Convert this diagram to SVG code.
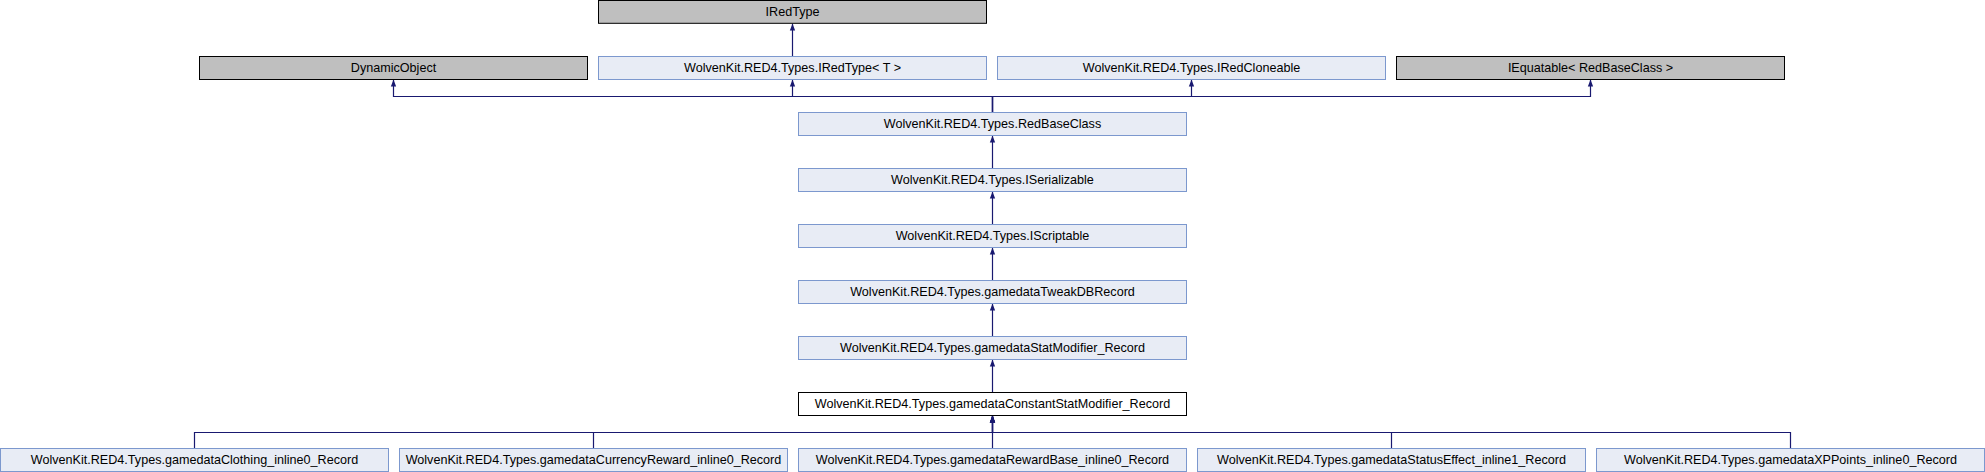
<svg xmlns="http://www.w3.org/2000/svg" width="1985" height="472" viewBox="0 0 1985 472">
<style>
rect.doc{fill:#E8ECF5;stroke:#7C98CE;stroke-width:1}
rect.ext{fill:#BFBFBF;stroke:#000000;stroke-width:1}
rect.cur{fill:#FFFFFF;stroke:#000000;stroke-width:1}
text{font-family:"Liberation Sans",Arial,sans-serif;font-size:12.6px;fill:#000000;text-anchor:middle}
.edge{fill:none;stroke:#191970;stroke-width:1.2;marker-end:url(#arr)}
</style>
<defs>
<marker id="arr" viewBox="0 0 10 10" refX="10" refY="5" markerWidth="7" markerHeight="7" markerUnits="userSpaceOnUse" orient="auto">
<path d="M0,1.2 L10,5 L0,8.8 z" fill="#191970"/>
</marker>
</defs>
<rect width="1985" height="472" fill="#FFFFFF"/>
<g id="connectors">
<path class="edge" d="M792.5,56 V23.5"/>
<path class="edge" d="M992.5,112 V96.5 H393.5 V79.5"/>
<path class="edge" d="M992.5,112 V96.5 H792.5 V79.5"/>
<path class="edge" d="M992.5,112 V96.5 H1191.5 V79.5"/>
<path class="edge" d="M992.5,112 V96.5 H1590.5 V79.5"/>
<path class="edge" d="M992.5,168 V135.5"/>
<path class="edge" d="M992.5,224 V191.5"/>
<path class="edge" d="M992.5,280 V247.5"/>
<path class="edge" d="M992.5,336 V303.5"/>
<path class="edge" d="M992.5,392 V359.5"/>
<path class="edge" d="M194.5,448 V432.5 H992.5 V415.5"/>
<path class="edge" d="M593.5,448 V432.5 H992.5 V415.5"/>
<path class="edge" d="M992.5,448 V415.5"/>
<path class="edge" d="M1391.5,448 V432.5 H992.5 V415.5"/>
<path class="edge" d="M1790.5,448 V432.5 H992.5 V415.5"/>
</g>
<g id="IRedType"><rect class="ext" x="598.5" y="0.5" width="388" height="22.8"/><text x="792.5" y="16">IRedType</text></g>
<g id="DynamicObject"><rect class="ext" x="199.5" y="56.5" width="388" height="23"/><text x="393.5" y="72">DynamicObject</text></g>
<g id="IRedTypeT"><rect class="doc" x="598.5" y="56.5" width="388" height="23"/><text x="792.5" y="72">WolvenKit.RED4.Types.IRedType&lt; T &gt;</text></g>
<g id="IRedCloneable"><rect class="doc" x="997.5" y="56.5" width="388" height="23"/><text x="1191.5" y="72">WolvenKit.RED4.Types.IRedCloneable</text></g>
<g id="IEquatable"><rect class="ext" x="1396.5" y="56.5" width="388" height="23"/><text x="1590.5" y="72">IEquatable&lt; RedBaseClass &gt;</text></g>
<g id="RedBaseClass"><rect class="doc" x="798.5" y="112.5" width="388" height="23"/><text x="992.5" y="128">WolvenKit.RED4.Types.RedBaseClass</text></g>
<g id="ISerializable"><rect class="doc" x="798.5" y="168.5" width="388" height="23"/><text x="992.5" y="184">WolvenKit.RED4.Types.ISerializable</text></g>
<g id="IScriptable"><rect class="doc" x="798.5" y="224.5" width="388" height="23"/><text x="992.5" y="240">WolvenKit.RED4.Types.IScriptable</text></g>
<g id="TweakDBRecord"><rect class="doc" x="798.5" y="280.5" width="388" height="23"/><text x="992.5" y="296">WolvenKit.RED4.Types.gamedataTweakDBRecord</text></g>
<g id="StatModifierRecord"><rect class="doc" x="798.5" y="336.5" width="388" height="23"/><text x="992.5" y="352">WolvenKit.RED4.Types.gamedataStatModifier_Record</text></g>
<g id="ConstantStatModifierRecord"><rect class="cur" x="798.5" y="392.5" width="388" height="23"/><text x="992.5" y="408">WolvenKit.RED4.Types.gamedataConstantStatModifier_Record</text></g>
<g id="ClothingRecord"><rect class="doc" x="0.5" y="448.5" width="388" height="23"/><text x="194.5" y="464">WolvenKit.RED4.Types.gamedataClothing_inline0_Record</text></g>
<g id="CurrencyRewardRecord"><rect class="doc" x="399.5" y="448.5" width="388" height="23"/><text x="593.5" y="464">WolvenKit.RED4.Types.gamedataCurrencyReward_inline0_Record</text></g>
<g id="RewardBaseRecord"><rect class="doc" x="798.5" y="448.5" width="388" height="23"/><text x="992.5" y="464">WolvenKit.RED4.Types.gamedataRewardBase_inline0_Record</text></g>
<g id="StatusEffectRecord"><rect class="doc" x="1197.5" y="448.5" width="388" height="23"/><text x="1391.5" y="464">WolvenKit.RED4.Types.gamedataStatusEffect_inline1_Record</text></g>
<g id="XPPointsRecord"><rect class="doc" x="1596.5" y="448.5" width="388" height="23"/><text x="1790.5" y="464">WolvenKit.RED4.Types.gamedataXPPoints_inline0_Record</text></g>
</svg>
